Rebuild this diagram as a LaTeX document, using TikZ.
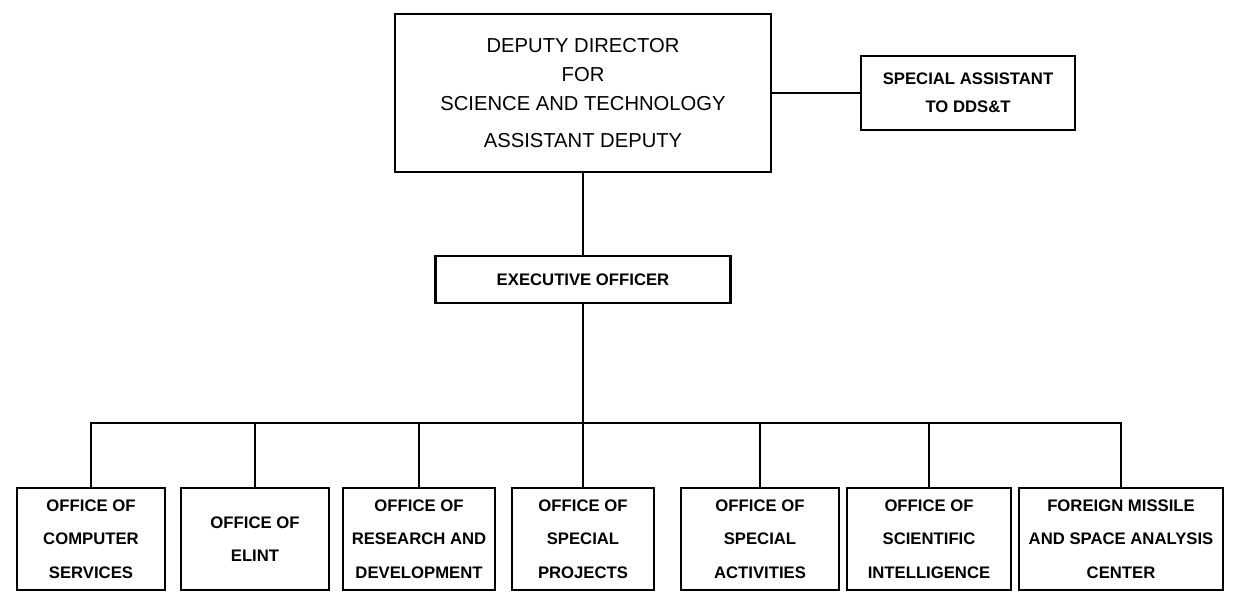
\documentclass[tikz,border=0pt]{standalone}
\usepackage{fontspec}
\setmainfont{Liberation Sans}
\usetikzlibrary{positioning}
\tikzset{
    office/.style={
           rectangle,
           draw=black, line width=1.2pt,
           minimum width=2.96cm,
           minimum height=2.04cm,
           inner sep=2pt,
           align=center,
           font=\fontsize{9.5pt}{19pt}\selectfont\bfseries,
           },
    link/.style={
           draw=black, line width=1.2pt,
           line cap=rect,
           },
}

\begin{document}
\begin{tikzpicture}
 \useasboundingbox (0,0) rectangle (24.72,-11.9);

 % Head of the directorate
 \node[office,    	% layout (defined above)
  minimum width=7.52cm,
  minimum height=3.16cm,
  font=\fontsize{11.5pt}{16.5pt}\selectfont,
  anchor=center] (DDST) at (11.66,-1.86)
 {DEPUTY DIRECTOR\\ FOR\\ SCIENCE AND TECHNOLOGY\\[4.5pt] ASSISTANT DEPUTY};

 \node[office,
  minimum width=4.28cm,
  minimum height=1.48cm,
  font=\fontsize{9.5pt}{16pt}\selectfont\bfseries,
  right of=DDST, 	% staff box beside the head
  node distance=7.70cm,
  anchor=center] (SPASST)
 {SPECIAL ASSISTANT\\ TO DDS\&T};

 \node[office,
  minimum width=5.9cm,
  minimum height=0.94cm,
  below of=DDST,
  node distance=3.73cm,
  anchor=center] (EXEC)
 {EXECUTIVE OFFICER};

 % the bar the offices hang from
 \coordinate[below of=EXEC, node distance=2.87cm] (BUS);

 % Row of offices, built out from the middle one
 \node[office,
  minimum width=2.84cm,
  below of=EXEC,
  node distance=5.19cm,
  anchor=center] (SPPROJ)
 {OFFICE OF\\ SPECIAL\\ PROJECTS};

 \node[office,
  minimum width=3.04cm,
  left of=SPPROJ,
  node distance=3.28cm,
  anchor=center] (RD)
 {OFFICE OF\\ RESEARCH AND\\ DEVELOPMENT};

 \node[office,
  left of=RD,
  node distance=3.28cm,
  anchor=center] (ELINT)
 {OFFICE OF\\ ELINT};

 \node[office,
  left of=ELINT,
  node distance=3.28cm,
  anchor=center] (COMP)
 {OFFICE OF\\ COMPUTER\\ SERVICES};

 \node[office,
  minimum width=3.16cm,
  right of=SPPROJ,
  node distance=3.54cm,
  anchor=center] (SPACT)
 {OFFICE OF\\ SPECIAL\\ ACTIVITIES};

 \node[office,
  minimum width=3.28cm,
  right of=SPACT,
  node distance=3.38cm,
  anchor=center] (OSI)
 {OFFICE OF\\ SCIENTIFIC\\ INTELLIGENCE};

 \node[office,
  minimum width=4.08cm,
  right of=OSI,
  node distance=3.84cm,
  anchor=center] (FMSAC)
 {FOREIGN MISSILE\\ AND SPACE ANALYSIS\\ CENTER};

 % draw the lines of the chart
 \draw[link] (DDST) -- (SPASST);
 \draw[link] (DDST) -- (EXEC);
 \draw[link] (EXEC) -- (BUS);
 \draw[link] (BUS -| COMP) -- (BUS -| FMSAC);
 \foreach \n in {COMP,ELINT,RD,SPPROJ,SPACT,OSI,FMSAC}
  \draw[link] (BUS -| \n) -- (\n);
\end{tikzpicture}
\end{document}
